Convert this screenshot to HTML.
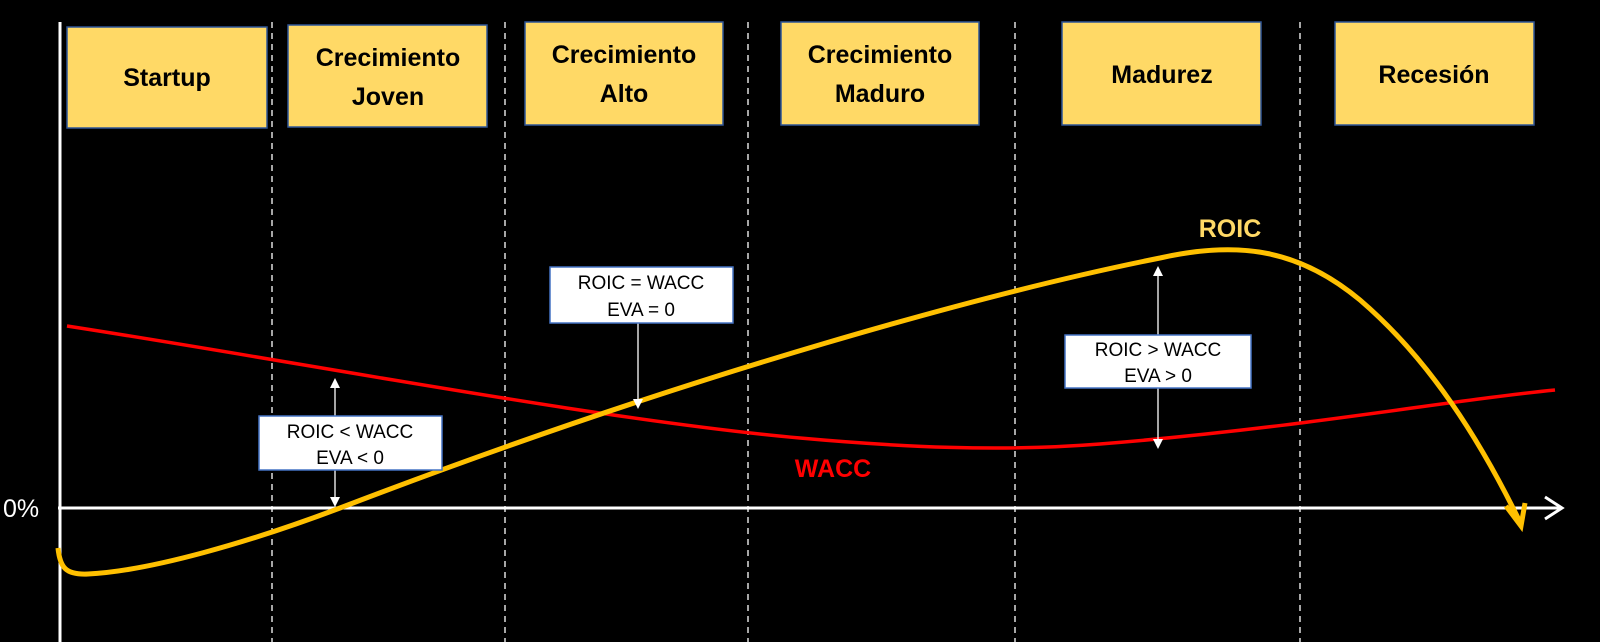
<!DOCTYPE html>
<html><head><meta charset="utf-8"><style>html,body{margin:0;padding:0;background:#000;}svg{display:block}</style></head>
<body>
<svg width="1600" height="642" viewBox="0 0 1600 642" xmlns="http://www.w3.org/2000/svg" font-family="Liberation Sans, sans-serif">
<rect width="1600" height="642" fill="#000"/>
<defs>
<marker id="wa" markerWidth="10" markerHeight="10" refX="8" refY="5" orient="auto" markerUnits="userSpaceOnUse"><path d="M0,0 L10,5 L0,10 z" fill="#fff"/></marker>
</defs>
<g stroke="#fff" stroke-width="1.3" stroke-dasharray="6,5">
<line x1="272" y1="22" x2="272" y2="642"/><line x1="505" y1="22" x2="505" y2="642"/><line x1="748" y1="22" x2="748" y2="642"/><line x1="1015" y1="22" x2="1015" y2="642"/><line x1="1300" y1="22" x2="1300" y2="642"/>
</g>
<line x1="60" y1="22" x2="60" y2="642" stroke="#fff" stroke-width="3"/>
<line x1="58" y1="508" x2="1560" y2="508" stroke="#fff" stroke-width="3"/>
<path d="M1545,497 L1562,508 L1545,519" fill="none" stroke="#fff" stroke-width="3"/>
<g fill="#FFD966" stroke="#2F5597" stroke-width="1.5">
<rect x="67" y="27" width="200" height="101"/><rect x="288" y="25" width="199" height="102"/><rect x="525" y="22" width="198" height="103"/><rect x="781" y="22" width="198" height="103"/><rect x="1062" y="22" width="199" height="103"/><rect x="1335" y="22" width="199" height="103"/>
</g>
<g font-weight="bold" font-size="25" fill="#000" text-anchor="middle">
<text x="167" y="86">Startup</text>
<text x="388" y="66">Crecimiento</text><text x="388" y="105">Joven</text>
<text x="624" y="63">Crecimiento</text><text x="624" y="102">Alto</text>
<text x="880" y="63">Crecimiento</text><text x="880" y="102">Maduro</text>
<text x="1162" y="83">Madurez</text>
<text x="1434" y="83">Recesión</text>
</g>
<path d="M67,326 C300,362 600,420 800,438 C900,447 1000,452 1100,444 C1300,428 1450,400 1555,390" fill="none" stroke="#f00" stroke-width="3.5"/>
<path d="M58,548 C60,568 66,575 88,574 C150,571 250,542 340,508 C700,370 1000,290 1160,258 C1240,240 1300,250 1360,300 C1430,360 1480,440 1520,522" fill="none" stroke="#FFC000" stroke-width="5"/>
<path d="M1506,506 L1521,526 L1525,503" fill="none" stroke="#FFC000" stroke-width="5"/>
<g stroke="#fff" stroke-width="1.3">
<line x1="335" y1="416" x2="335" y2="380" marker-end="url(#wa)"/>
<line x1="335" y1="470" x2="335" y2="505" marker-end="url(#wa)"/>
<line x1="638" y1="323" x2="638" y2="407" marker-end="url(#wa)"/>
<line x1="1158" y1="335" x2="1158" y2="268" marker-end="url(#wa)"/>
<line x1="1158" y1="388" x2="1158" y2="447" marker-end="url(#wa)"/>
</g>
<g fill="#fff" stroke="#4472C4" stroke-width="1.5">
<rect x="259" y="416" width="183" height="54"/><rect x="550" y="267" width="183" height="56"/><rect x="1065" y="335" width="186" height="53"/>
</g>
<g font-size="19" fill="#000" text-anchor="middle">
<text x="350" y="438">ROIC &lt; WACC</text><text x="350" y="464">EVA &lt; 0</text>
<text x="641" y="289">ROIC = WACC</text><text x="641" y="316">EVA = 0</text>
<text x="1158" y="356">ROIC &gt; WACC</text><text x="1158" y="382">EVA &gt; 0</text>
</g>
<text x="1230" y="237" font-size="25" font-weight="bold" fill="#FFD966" text-anchor="middle">ROIC</text>
<text x="833" y="477" font-size="25" font-weight="bold" fill="#f00" text-anchor="middle">WACC</text>
<text x="3" y="517" font-size="25" fill="#fff">0%</text>
</svg>
</body></html>
